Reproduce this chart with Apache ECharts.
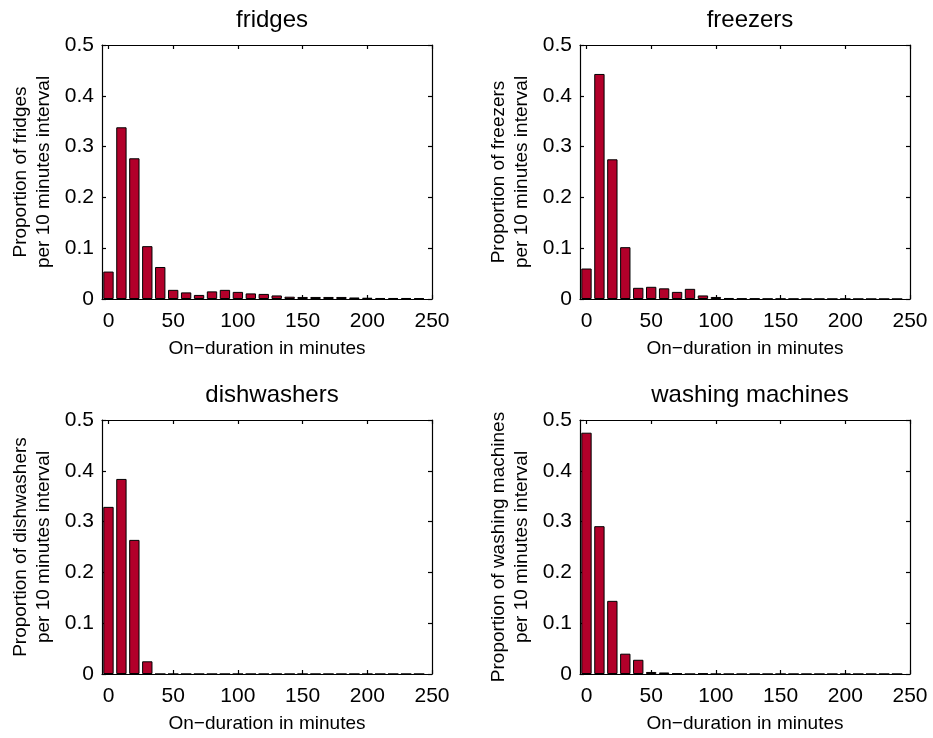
<!DOCTYPE html>
<html>
<head>
<meta charset="utf-8">
<script src="https://cdn.jsdelivr.net/npm/echarts@6/dist/echarts.min.js"></script>
<style>html,body{margin:0;padding:0;background:#fff}#c{width:933px;height:738px}</style>
</head>
<body>
<div id="c"></div>
<script>
// ---- data ----
var durations = [0,10,20,30,40,50,60,70,80,90,100,110,120,130,140,150,160,170,180,190,200,210,220,230,240];
var fridges = [0.054,0.338,0.277,0.104,0.063,0.018,0.013,0.008,0.015,0.018,0.014,0.011,0.010,0.007,0.0045,0.004,0.004,0.004,0.004,0.003,0.0025,0.002,0.002,0.002,0.0015];
var freezers = [0.060,0.443,0.275,0.102,0.022,0.024,0.021,0.014,0.020,0.007,0.004,0.002,0.001,0.001,0.0005,0.0005,0.0004,0.0003,0.0003,0.0002,0.0002,0.0002,0.0001,0.0001,0.0001];
var dishwashers = [0.329,0.384,0.264,0.025,0,0,0,0,0,0,0,0,0,0,0,0,0,0,0,0,0,0,0,0,0];
var washingMachines = [0.475,0.291,0.144,0.040,0.028,0.004,0.003,0.001,0,0.001,0,0,0,0,0,0,0,0,0,0,0,0,0,0,0];
var panelTitles = ['fridges','freezers','dishwashers','washing machines'];
var yNames = ['Proportion of fridges\nper 10 minutes interval','Proportion of freezers\nper 10 minutes interval','Proportion of dishwashers\nper 10 minutes interval','Proportion of washing machines\nper 10 minutes interval'];
var xTicks = [0,50,100,150,200,250];
var xName = 'On\u2212duration in minutes';
var allSeries = [fridges, freezers, dishwashers, washingMachines];

// ---- layout ----
var FONT = 'Liberation Sans, Arial, Helvetica, sans-serif';
var grids = [
  {left:102, top:45, width:330, height:254},
  {left:580, top:45, width:330, height:254},
  {left:102, top:420, width:330, height:254},
  {left:580, top:420, width:330, height:254}
];
var XMIN = -5, XMAX = 250;

var option = {animation:false, backgroundColor:'#fff', title:[], grid:[], xAxis:[], yAxis:[], series:[]};
var lineStyle = {color:'#000', width:1.2};
grids.forEach(function(g, i){
  option.grid.push({left:g.left, top:g.top, width:g.width, height:g.height, containLabel:false});
  option.title.push({text:panelTitles[i], left:g.left + g.width/2 + 5, top:g.top - 37, textAlign:'center', padding:0,
    textStyle:{fontFamily:FONT, fontSize:24, fontWeight:'normal', color:'#000'}});
  // bottom x
  option.xAxis.push({type:'value', gridIndex:i, position:'bottom', min:XMIN, max:XMAX,
    axisLine:{show:true, onZero:false, lineStyle:lineStyle},
    axisTick:{show:true, inside:true, length:4, customValues:xTicks, lineStyle:lineStyle},
    axisLabel:{show:true, customValues:xTicks, margin:12, color:'#000', fontFamily:FONT, fontSize:21},
    splitLine:{show:false},
    name:xName, nameLocation:'middle', nameGap:40,
    nameTextStyle:{fontFamily:FONT, fontSize:19, color:'#000'}});
  // top x (frame)
  option.xAxis.push({type:'value', gridIndex:i, position:'top', min:XMIN, max:XMAX,
    axisLine:{show:true, onZero:false, lineStyle:lineStyle},
    axisTick:{show:true, inside:true, length:4, customValues:xTicks, lineStyle:lineStyle},
    axisLabel:{show:false}, splitLine:{show:false}});
  // left y
  option.yAxis.push({type:'value', gridIndex:i, position:'left', min:0, max:0.5, interval:0.1,
    axisLine:{show:true, onZero:false, lineStyle:lineStyle},
    axisTick:{show:true, inside:true, length:4, lineStyle:lineStyle},
    axisLabel:{show:true, margin:8, color:'#000', fontFamily:FONT, fontSize:21},
    splitLine:{show:false},
    name:yNames[i], nameLocation:'middle', nameGap:47, nameRotate:90,
    nameTextStyle:{fontFamily:FONT, fontSize:19, color:'#000', lineHeight:23, align:'center'}});
  // right y (frame)
  option.yAxis.push({type:'value', gridIndex:i, position:'right', min:0, max:0.5, interval:0.1,
    axisLine:{show:true, onZero:false, lineStyle:lineStyle},
    axisTick:{show:true, inside:true, length:4, lineStyle:lineStyle},
    axisLabel:{show:false}, splitLine:{show:false}});
  var vals = allSeries[i];
  option.series.push({type:'bar', xAxisIndex:2*i, yAxisIndex:2*i,
    data: durations.map(function(d, k){ return [d, vals[k]]; }),
    barWidth: g.width * 8 / (XMAX - XMIN),
    itemStyle:{color:'#b2002a', borderColor:'#000', borderWidth:1},
    emphasis:{disabled:true}, silent:true});
});

var chart = echarts.init(document.getElementById('c'), null, {renderer:'canvas'});
chart.setOption(option);
</script>
</body>
</html>
